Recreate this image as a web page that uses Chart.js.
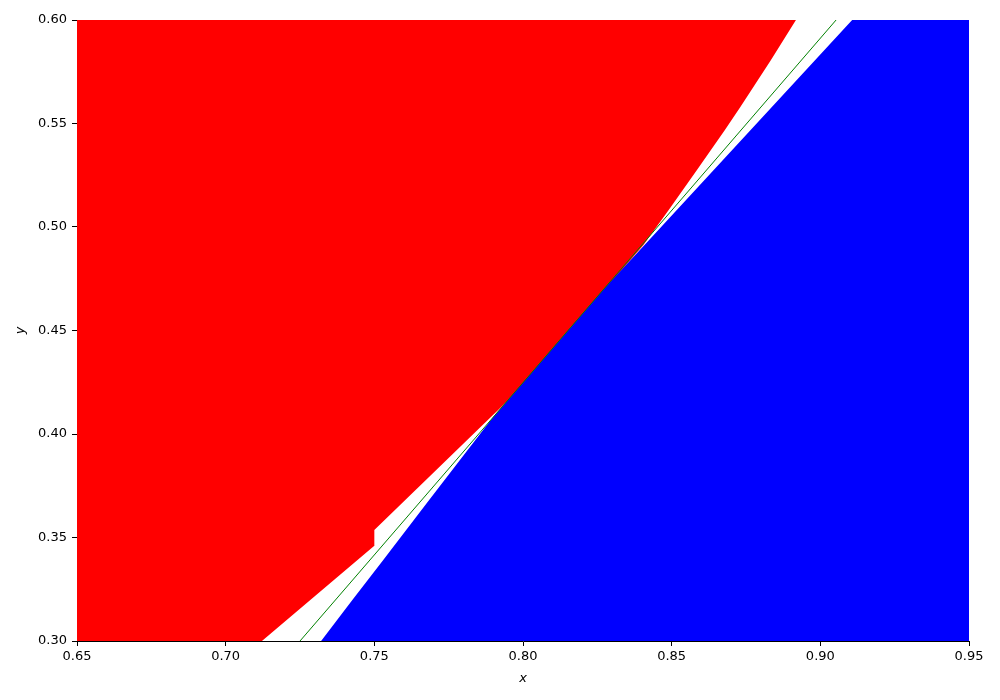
<!DOCTYPE html>
<html>
<head>
<meta charset="utf-8">
<script src="https://cdn.jsdelivr.net/npm/chart.js@4/dist/chart.umd.min.js"></script>
<style>
  body { margin: 0; background: #fff; }
</style>
</head>
<body>
<canvas id="chart" width="1000" height="700"></canvas>
<script>
// boundary of the red region (filled up to the top)
const redX = [0.65, 0.7122, 0.7499, 0.75, 0.7958, 0.8036, 0.8156, 0.8277, 0.8405, 0.849, 0.8585, 0.8679, 0.8731, 0.8834, 0.8918];
const redY = [0.30, 0.30, 0.3459, 0.3536, 0.4174, 0.43, 0.45, 0.47, 0.4913, 0.5082, 0.5275, 0.5469, 0.558, 0.5807, 0.60];

// boundary of the blue region (filled down to the bottom)
const blueX = [0.7321, 0.7426, 0.753, 0.7676, 0.7788, 0.7901, 0.8031, 0.8151, 0.8269, 0.9107, 0.95];
const blueY = [0.30, 0.3198, 0.3391, 0.3665, 0.3874, 0.4084, 0.43, 0.45, 0.4696, 0.60, 0.60];

// green line
const greenX = [0.725, 0.9053];
const greenY = [0.30, 0.60];

const toPoints = (xs, ys) => xs.map((x, i) => ({ x: x, y: ys[i] }));

const tickFont = { family: "DejaVu Sans", size: 13 };
const titleFont = { family: "DejaVu Sans", size: 13, style: "italic" };

new Chart(document.getElementById("chart"), {
  type: "line",
  data: {
    datasets: [
      {
        data: toPoints(greenX, greenY),
        borderColor: "green",
        borderWidth: 1,
        pointRadius: 0,
        fill: false,
      },
      {
        data: toPoints(blueX, blueY),
        borderColor: "rgba(0,0,0,0)",
        borderWidth: 0,
        backgroundColor: "#0000ff",
        pointRadius: 0,
        fill: "start",
      },
      {
        data: toPoints(redX, redY),
        borderColor: "rgba(0,0,0,0)",
        borderWidth: 0,
        backgroundColor: "#ff0000",
        pointRadius: 0,
        fill: "end",
      },
    ],
  },
  options: {
    responsive: false,
    animation: false,
    devicePixelRatio: 1,
    layout: {
      padding: { top: 20, right: 31, left: 0, bottom: 0 },
    },
    plugins: {
      legend: { display: false },
      tooltip: { enabled: false },
    },
    scales: {
      x: {
        type: "linear",
        min: 0.65,
        max: 0.95,
        afterFit: (scale) => { scale.height = 59; },
        border: { display: true, color: "#000", width: 1 },
        grid: { drawOnChartArea: false, drawTicks: true, tickLength: 5, color: "#000" },
        ticks: {
          stepSize: 0.05,
          padding: 3,
          color: "#000",
          font: tickFont,
          maxRotation: 0,
          callback: (v) => v.toFixed(2),
        },
        title: { display: true, text: "x", color: "#000", font: titleFont, padding: { top: 0, bottom: 14 } },
      },
      y: {
        type: "linear",
        min: 0.30,
        max: 0.60,
        afterFit: (scale) => { scale.width = 77; },
        border: { display: true, color: "#000", width: 1 },
        grid: { drawOnChartArea: false, drawTicks: true, tickLength: 5, color: "#000" },
        ticks: {
          stepSize: 0.05,
          padding: 5,
          color: "#000",
          font: tickFont,
          callback: (v) => v.toFixed(2),
        },
        title: { display: true, text: "y", color: "#000", font: titleFont, padding: { top: 13, bottom: 0 } },
      },
    },
  },
});
</script>
</body>
</html>
